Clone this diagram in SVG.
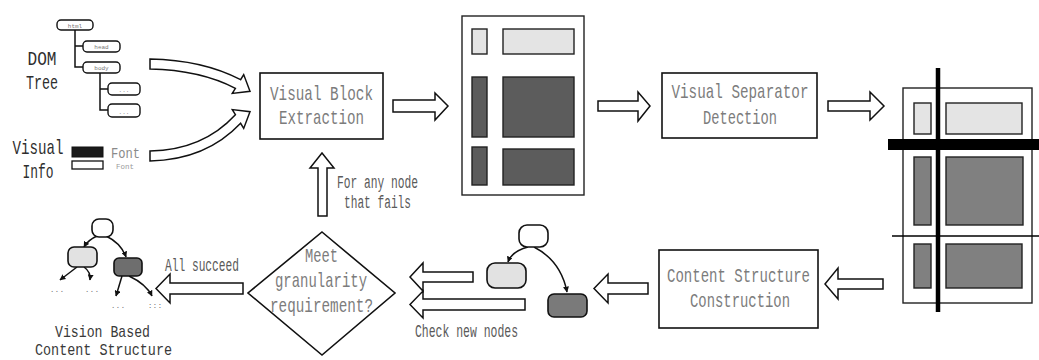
<svg xmlns="http://www.w3.org/2000/svg" width="1039" height="360" viewBox="0 0 1039 360">
  <defs>
    <style>
      .t { font-family: "Liberation Mono", "DejaVu Sans Mono", monospace; font-size: 21px; text-anchor: middle; }
      .box-label { fill: #7c7c7c; }
      .dark-label { fill: #2e2e2e; }
      .note { fill: #5a5a5a; font-size: 18px; }
      .caption { fill: #3a3a3a; font-size: 17px; }
      .box { fill: #ffffff; stroke: #111; stroke-width: 1.6; }
      .blk { fill: #ffffff; stroke: #111; stroke-width: 1.5; stroke-linejoin: miter; }
      .page { fill: #ffffff; stroke: #222; stroke-width: 1.4; }
      .light { fill: #e4e4e4; stroke: #222; stroke-width: 1.4; }
      .dark1 { fill: #5c5c5c; stroke: #222; stroke-width: 1.4; }
      .dark2 { fill: #808080; stroke: #222; stroke-width: 1.4; }
      .tnode { stroke: #111; stroke-width: 1.6; }
      .edge { fill: none; stroke: #111; stroke-width: 1.5; }
      .dom { fill: #fff; stroke: #111; stroke-width: 1.4; }
      .domt { font-family: "Liberation Mono", monospace; font-size: 6px; fill: #777; text-anchor: middle; }
      .dots { font-family: "Liberation Mono", monospace; font-size: 8px; fill: #777; text-anchor: middle; }
    </style>
    <marker id="ah" viewBox="0 0 10 10" refX="9" refY="5" markerWidth="6" markerHeight="6" orient="auto" markerUnits="userSpaceOnUse">
      <path d="M0,0 L10,5 L0,10 Z" fill="#111"/>
    </marker>
  </defs>

  <rect width="1039" height="360" fill="#ffffff"/>

  <!-- inputs: DOM tree and visual info -->
  <g id="dom-tree">
    <text class="t dark-label" x="42" y="65" textLength="29" lengthAdjust="spacingAndGlyphs">DOM</text>
    <text class="t dark-label" x="42" y="89" textLength="32" lengthAdjust="spacingAndGlyphs">Tree</text>
    <path class="edge" d="M75,30 V67 H83 M75,46 H83 M100,73 V110 H108 M100,89 H108"/>
    <rect class="dom" x="57" y="20" width="36" height="10" rx="4"/>
    <text class="domt" x="75" y="27.5">html</text>
    <rect class="dom" x="83" y="41" width="37" height="11" rx="4"/>
    <text class="domt" x="101.5" y="49">head</text>
    <rect class="dom" x="83" y="62" width="37" height="11" rx="4"/>
    <text class="domt" x="101.5" y="70">body</text>
    <rect class="dom" x="108" y="83" width="32" height="12" rx="4"/>
    <text class="domt" x="124" y="92">...</text>
    <rect class="dom" x="108" y="104" width="32" height="13" rx="4"/>
    <text class="domt" x="124" y="114">...</text>
  </g>

  <g id="visual-info">
    <text class="t dark-label" x="38" y="154" textLength="51" lengthAdjust="spacingAndGlyphs">Visual</text>
    <text class="t dark-label" x="38" y="178" textLength="31" lengthAdjust="spacingAndGlyphs">Info</text>
    <rect x="72" y="147" width="31" height="10" fill="#1a1a1a" stroke="#111" stroke-width="1"/>
    <rect x="72" y="161" width="31" height="8" fill="#fff" stroke="#111" stroke-width="1.3"/>
    <text class="t" x="125.5" y="158" fill="#8a8a8a" textLength="29" lengthAdjust="spacingAndGlyphs" style="font-size:15px">Font</text>
    <text class="t" x="125" y="169" fill="#9a9a9a" textLength="18" lengthAdjust="spacingAndGlyphs" style="font-size:7px">Font</text>
  </g>

  <!-- process boxes -->
  <g id="visual-block-extraction">
    <rect class="box" x="260" y="73" width="123" height="66"/>
    <text class="t box-label" x="321.5" y="100" textLength="103" lengthAdjust="spacingAndGlyphs">Visual Block</text>
    <text class="t box-label" x="321.5" y="124" textLength="85" lengthAdjust="spacingAndGlyphs">Extraction</text>
  </g>

  <g id="visual-separator-detection">
    <rect class="box" x="662" y="73" width="155" height="65"/>
    <text class="t box-label" x="740" y="98" textLength="137" lengthAdjust="spacingAndGlyphs">Visual Separator</text>
    <text class="t box-label" x="740" y="124" textLength="74" lengthAdjust="spacingAndGlyphs">Detection</text>
  </g>

  <g id="content-structure-construction">
    <rect class="box" x="659" y="250" width="159" height="78"/>
    <text class="t box-label" x="738.5" y="282" textLength="143" lengthAdjust="spacingAndGlyphs">Content Structure</text>
    <text class="t box-label" x="740" y="307" textLength="100" lengthAdjust="spacingAndGlyphs">Construction</text>
  </g>

  <g id="granularity-check">
    <polygon class="box" points="322,232 395,293 322,355 248,293"/>
    <text class="t box-label" x="321.5" y="262" textLength="33" lengthAdjust="spacingAndGlyphs">Meet</text>
    <text class="t box-label" x="321" y="287" textLength="92" lengthAdjust="spacingAndGlyphs">granularity</text>
    <text class="t box-label" x="321.5" y="312" textLength="103" lengthAdjust="spacingAndGlyphs">requirement?</text>
  </g>

  <!-- page layout after block extraction -->
  <g id="page-blocks">
    <rect class="page" x="462" y="16" width="122" height="179"/>
    <rect class="light" x="472" y="29" width="15" height="25"/>
    <rect class="light" x="503" y="29" width="71" height="25"/>
    <rect class="dark1" x="472" y="77" width="15" height="60"/>
    <rect class="dark1" x="503" y="77" width="71" height="60"/>
    <rect class="dark1" x="472" y="147" width="15" height="38"/>
    <rect class="dark1" x="503" y="149" width="71" height="36"/>
  </g>

  <!-- page layout with separators -->
  <g id="page-separators">
    <rect class="page" x="903" y="88" width="129" height="215"/>
    <rect class="light" x="914" y="103" width="17" height="31"/>
    <rect class="light" x="946" y="103" width="76" height="31"/>
    <rect class="dark2" x="914" y="157" width="17" height="68"/>
    <rect class="dark2" x="946" y="157" width="77" height="68"/>
    <rect class="dark2" x="914" y="244" width="17" height="44"/>
    <rect class="dark2" x="946" y="244" width="76" height="44"/>
    <rect x="888" y="139" width="151" height="11" fill="#000"/>
    <line x1="892" y1="236" x2="1039" y2="236" stroke="#000" stroke-width="1.6"/>
    <line x1="938" y1="68" x2="938" y2="312" stroke="#000" stroke-width="4.5"/>
  </g>

  <!-- intermediate content structure -->
  <g id="new-nodes">
    <path class="edge" d="M528,247 Q512,251 508,262" marker-end="url(#ah)"/>
    <path class="edge" d="M534,247 Q561,261 567,292" marker-end="url(#ah)"/>
    <rect class="tnode" x="519" y="225" width="29" height="22" rx="8" fill="#fff"/>
    <rect class="tnode" x="487" y="263" width="39" height="25" rx="8" fill="#e2e2e2"/>
    <rect class="tnode" x="548" y="294" width="39" height="23" rx="6" fill="#7a7a7a"/>
  </g>

  <!-- final vision based content structure -->
  <g id="vision-based-content-structure">
    <path class="edge" d="M97,236 Q88,240 84,247" marker-end="url(#ah)"/>
    <path class="edge" d="M106,236 Q121,243 126,257" marker-end="url(#ah)"/>
    <path class="edge" d="M77,267 L60,280" marker-end="url(#ah)"/>
    <path class="edge" d="M84,267 Q91,272 90,280" marker-end="url(#ah)"/>
    <path class="edge" d="M122,276 L116,296" marker-end="url(#ah)"/>
    <path class="edge" d="M129,276 Q146,284 152,296" marker-end="url(#ah)"/>
    <rect class="tnode" x="92" y="219" width="21" height="18" rx="7" fill="#fff"/>
    <rect class="tnode" x="68" y="247" width="29" height="20" rx="6" fill="#e2e2e2"/>
    <rect class="tnode" x="114" y="258" width="28" height="18" rx="5" fill="#6e6e6e"/>
    <text class="dots" x="57" y="292">...</text>
    <text class="dots" x="92" y="292">...</text>
    <text class="dots" x="118" y="308">...</text>
    <text class="dots" x="155" y="308">:::</text>
    <text class="t caption" x="102.5" y="337" textLength="95" lengthAdjust="spacingAndGlyphs">Vision Based</text>
    <text class="t caption" x="103.5" y="355" textLength="137" lengthAdjust="spacingAndGlyphs">Content Structure</text>
  </g>

  <!-- connectors (hollow block arrows) -->
  <g id="connectors">
    <path class="blk" d="M150,59 Q203,60 240.6,79.7 L243.7,74.6 L250,91.3 L232.3,93.4 L235.4,88.3 Q200,70 150,69 Z"/>
    <path class="blk" d="M150,151 Q203,150 235.4,114.7 L232.3,109.6 L250,111.7 L243.7,128.4 L240.6,123.3 Q206,160 150,161 Z"/>
    <path class="blk" d="M393,100 H435 V93 L448,106 L435,120 V112 H393 Z"/>
    <path class="blk" d="M598,101 H638 V92 L650,106 L638,121 V111 H598 Z"/>
    <path class="blk" d="M828,101 H870 V92 L884,106 L870,120 V111 H828 Z"/>
    <path class="blk" d="M883,279 H838 V268 L825,284 L838,299 V289 H883 Z"/>
    <path class="blk" d="M648,283 H608 V274 L594,288.5 L608,303 V294 H648 Z"/>
    <path class="blk" d="M473,272 H423 V263 L410,277 L423,291 V282 H473 Z"/>
    <path class="blk" d="M525,299 H423 V291 L410,304.5 L423,318 V310 H525 Z"/>
    <path class="blk" d="M243,283 H170 V274 L156,288.5 L170,303 V294 H243 Z"/>
    <path class="blk" d="M318,216 V168 H310 L322,153 L334,168 H327 V216 Z"/>
    <text class="t note" x="377.5" y="188" textLength="81" lengthAdjust="spacingAndGlyphs">For any node</text>
    <text class="t note" x="377.5" y="208" textLength="67" lengthAdjust="spacingAndGlyphs">that fails</text>
    <text class="t note" x="202" y="271" textLength="74" lengthAdjust="spacingAndGlyphs">All succeed</text>
    <text class="t note" x="466.5" y="337" textLength="103" lengthAdjust="spacingAndGlyphs">Check new nodes</text>
  </g>
</svg>
